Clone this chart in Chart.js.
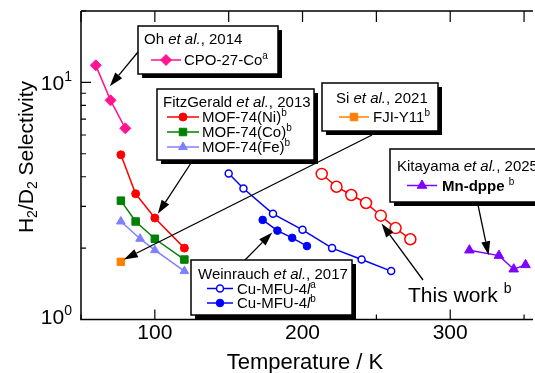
<!DOCTYPE html>
<html><head><meta charset="utf-8">
<script src="https://cdn.jsdelivr.net/npm/chart.js@4.4.1/dist/chart.umd.min.js"></script>
<style>html,body{margin:0;padding:0;background:#fff;overflow:hidden}#wrap{width:535px;height:373px;position:relative}</style>
</head><body><div id="wrap"><canvas id="c" width="535" height="373"></canvas></div>
<script>
const FONT = '"Liberation Sans", Arial, Helvetica, sans-serif';

// ---- data (temperature K, H2/D2 selectivity) ----
const cpoT = [60, 70, 80];
const cpoS = [11.8, 8.4, 6.4];
const niT = [77, 87, 100, 120];
const niS = [4.95, 3.39, 2.68, 2.0];
const coT = [77, 87, 100, 120];
const coS = [3.17, 2.59, 2.19, 1.79];
const feT = [77, 90, 100, 120];
const feS = [2.59, 2.19, 1.96, 1.60];
const fjiT = [77];
const fjiS = [1.75];
const cuAT = [150, 160, 180, 200, 220, 240, 260];
const cuAS = [4.13, 3.57, 2.79, 2.39, 2.0, 1.79, 1.60];
const cuBT = [173, 183, 193, 203];
const cuBS = [2.63, 2.37, 2.21, 2.04];
const thisT = [213, 223, 233, 243, 253, 263, 273];
const thisS = [4.11, 3.63, 3.35, 3.10, 2.74, 2.43, 2.18];
const mnT = [313, 333, 343, 351];
const mnS = [1.96, 1.86, 1.63, 1.70];

// ---- ticks ----
const xMajorTicks = [100, 200, 300];
const xMinorTicks = [50, 150, 250, 350];
const xTopTicks = [50, 100, 150, 200, 250, 300, 350];
const yMajorTicks = [1, 10];
const yMajorExp = ['0', '1'];
const yMinorTicks = [2, 3, 4, 5, 6, 7, 8, 9, 20];

function pts(T, S) { return T.map((t, i) => ({x: t, y: S[i]})); }
function ds(label, T, S, color, style, r, open) {
  return {
    label, data: pts(T, S), showLine: true,
    borderColor: color, borderWidth: 1.5,
    pointStyle: style, pointRadius: r, pointHoverRadius: r,
    pointBackgroundColor: open ? '#fff' : color,
    pointBorderColor: color, pointBorderWidth: open ? 1.5 : 1,
    clip: false
  };
}
const datasets = [
  ds('CPO-27-Co', cpoT, cpoS, '#FF1493', 'rectRot', 5.5),
  ds('MOF-74(Ni)', niT, niS, '#FF0000', 'circle', 4),
  ds('MOF-74(Co)', coT, coS, '#008000', 'rect', 5.3),
  ds('MOF-74(Fe)', feT, feS, '#8080FF', 'triangle', 5),
  ds('FJI-Y11', fjiT, fjiS, '#FF8000', 'rect', 5.3),
  ds('Cu-MFU-4l a', cuAT, cuAS, '#0000FF', 'circle', 3.5, true),
  ds('Cu-MFU-4l b', cuBT, cuBS, '#0000FF', 'circle', 3.8),
  ds('This work', thisT, thisS, '#FF0000', 'circle', 5.5, true),
  ds('Mn-dppe', mnT, mnS, '#8000FF', 'triangle', 5.5)
];

// ---- annotation layout ----
const boxes = [
  {x: 138, y: 26, w: 140, h: 48, tx: 144, ty: 39,
   title: [['Oh ', 'n'], ['et al.', 'i'], [', 2014', 'n']],
   items: [{ds: 0, y: 60, x0: 151, x1: 181, tx: 184, label: [['CPO-27-Co', 'n'], ['a', 'sup']]}]},
  {x: 157, y: 89, w: 157, h: 71, tx: 163, ty: 102,
   title: [['FitzGerald ', 'n'], ['et al.', 'i'], [', 2013', 'n']],
   items: [
     {ds: 1, y: 117, x0: 167, x1: 199, tx: 202, label: [['MOF-74(Ni)', 'n'], ['b', 'sup']]},
     {ds: 2, y: 132, x0: 167, x1: 199, tx: 202, label: [['MOF-74(Co)', 'n'], ['b', 'sup']]},
     {ds: 3, y: 147, x0: 167, x1: 199, tx: 202, label: [['MOF-74(Fe)', 'n'], ['b', 'sup']]}]},
  {x: 322, y: 83, w: 116, h: 48, tx: 336, ty: 98,
   title: [['Si ', 'n'], ['et al.', 'i'], [', 2021', 'n']],
   items: [{ds: 4, y: 117, x0: 339, x1: 369, tx: 373, label: [['FJI-Y11', 'n'], ['b', 'sup']]}]},
  {x: 390, y: 149, w: 170, h: 53, tx: 397, ty: 166,
   title: [['Kitayama ', 'n'], ['et al.', 'i'], [', 2025', 'n']],
   items: [{ds: 8, y: 185.5, x0: 407, x1: 437, tx: 442, label: [['Mn-dppe', 'b'], [' ', 'n'], ['b', 'sup']]}]},
  {x: 191, y: 260, w: 161, h: 55, tx: 198, ty: 274,
   title: [['Weinrauch ', 'n'], ['et al.', 'i'], [', 2017', 'n']],
   items: [
     {ds: 5, y: 288.5, x0: 207, x1: 233, tx: 237, label: [['Cu-MFU-4', 'n'], ['l', 'i'], ['a', 'sup']]},
     {ds: 6, y: 303, x0: 207, x1: 233, tx: 237, label: [['Cu-MFU-4', 'n'], ['l', 'i'], ['b', 'sup']]}]}
];
// arrow tails in pixels, tips in data coordinates
const arrows = [
  {from: [138, 52], to: [69.5, 9.64]},
  {from: [191, 163], to: [102, 2.79]},
  {from: [372, 135], to: [79, 1.79]},
  {from: [478, 205], to: [326, 1.865]},
  {from: [245, 260], to: [179.5, 2.33]},
  {from: [423, 280], to: [253.5, 2.54]}
];

function segFont(type, size) {
  const small = (type === 'sup' || type === 'sub');
  const s = small ? Math.round(size * 0.66) : size;
  return (type === 'i' ? 'italic ' : '') + (type === 'b' ? 'bold ' : '') + s + 'px ' + FONT;
}
function drawRich(ctx, segs, x, y, size, align) {
  ctx.save();
  ctx.textBaseline = 'alphabetic';
  ctx.fillStyle = '#000';
  const widths = segs.map(([t, type]) => { ctx.font = segFont(type, size); return ctx.measureText(t).width; });
  const total = widths.reduce((a, b) => a + b, 0);
  let cx = align === 'right' ? x - total : (align === 'center' ? x - total / 2 : x);
  const base = y + size * 0.36;
  segs.forEach(([t, type], i) => {
    ctx.font = segFont(type, size);
    const dy = type === 'sup' ? -size * 0.42 : (type === 'sub' ? size * 0.22 : 0);
    ctx.fillText(t, cx, base + dy);
    cx += widths[i];
  });
  ctx.restore();
  return total;
}
function marker(ctx, style, r, x, y) {
  ctx.beginPath();
  if (style === 'circle') ctx.arc(x, y, r, 0, Math.PI * 2);
  else if (style === 'rect') { const s = r * Math.SQRT1_2; ctx.rect(x - s, y - s, 2 * s, 2 * s); }
  else if (style === 'rectRot') { ctx.moveTo(x - r, y); ctx.lineTo(x, y - r); ctx.lineTo(x + r, y); ctx.lineTo(x, y + r); }
  else if (style === 'triangle') {
    let a = 0;
    for (let k = 0; k < 3; k++) { const px = x + Math.sin(a) * r, py = y - Math.cos(a) * r; k ? ctx.lineTo(px, py) : ctx.moveTo(px, py); a += 2 * Math.PI / 3; }
  }
  ctx.closePath();
}

const decor = {
  id: 'decor',
  afterDatasetsDraw(chart) {
    const {ctx, chartArea: a, scales: {x, y}} = chart;
    ctx.save();
    ctx.strokeStyle = '#000';
    ctx.lineWidth = 1.5;
    ctx.beginPath();
    ctx.moveTo(a.left, a.top); ctx.lineTo(a.left, a.bottom); ctx.lineTo(a.right + 5, a.bottom);
    ctx.moveTo(a.left, a.top); ctx.lineTo(a.right + 5, a.top);
    ctx.stroke();
    ctx.lineWidth = 1.2;
    ctx.beginPath();
    xMajorTicks.forEach(v => { const p = x.getPixelForValue(v); ctx.moveTo(p, a.bottom); ctx.lineTo(p, a.bottom - 10); });
    xMinorTicks.forEach(v => { const p = x.getPixelForValue(v); ctx.moveTo(p, a.bottom); ctx.lineTo(p, a.bottom - 5); });
    xTopTicks.forEach(v => { const p = x.getPixelForValue(v); ctx.moveTo(p, a.top); ctx.lineTo(p, a.top + 11); });
    yMajorTicks.forEach(v => { const p = y.getPixelForValue(v); ctx.moveTo(a.left, p); ctx.lineTo(a.left + 10, p); });
    yMinorTicks.forEach(v => { const p = y.getPixelForValue(v); ctx.moveTo(a.left, p); ctx.lineTo(a.left + 5, p); });
    ctx.stroke();

    // tick labels
    ctx.fillStyle = '#000';
    ctx.font = '21px ' + FONT;
    ctx.textAlign = 'center'; ctx.textBaseline = 'middle';
    xMajorTicks.forEach(v => ctx.fillText(String(v), x.getPixelForValue(v), 333));
    ctx.textAlign = 'left';
    yMajorTicks.forEach((v, i) => {
      const p = y.getPixelForValue(v);
      drawRich(ctx, [['10', 'n'], [yMajorExp[i], 'sup']], a.left - 9, p - (i === 0 ? 3 : 0), 21, 'right');
    });
    // axis titles
    drawRich(ctx, [['Temperature / K', 'n']], 305, 361, 22, 'center');
    ctx.save();
    ctx.translate(25, 157);
    ctx.rotate(-Math.PI / 2);
    drawRich(ctx, [['H', 'n'], ['2', 'sub'], ['/D', 'n'], ['2', 'sub'], [' Selectivity', 'n']], 0, 0, 21, 'center');
    ctx.restore();

    // arrows
    ctx.fillStyle = '#000'; ctx.strokeStyle = '#000'; ctx.lineWidth = 1.3;
    arrows.forEach(ar => {
      const [x0, y0] = ar.from;
      const x1 = x.getPixelForValue(ar.to[0]), y1 = y.getPixelForValue(ar.to[1]);
      const ang = Math.atan2(y1 - y0, x1 - x0);
      const L = 14, W = 4.5;
      const bx = x1 - Math.cos(ang) * L, by = y1 - Math.sin(ang) * L;
      ctx.beginPath(); ctx.moveTo(x0, y0); ctx.lineTo(bx, by); ctx.stroke();
      ctx.beginPath();
      ctx.moveTo(x1, y1);
      ctx.lineTo(bx + Math.sin(ang) * W, by - Math.cos(ang) * W);
      ctx.lineTo(bx - Math.sin(ang) * W, by + Math.cos(ang) * W);
      ctx.closePath(); ctx.fill();
    });

    // legend boxes
    boxes.forEach(b => {
      ctx.fillStyle = '#000';
      ctx.fillRect(b.x + 4, b.y + 4, b.w, b.h);
      ctx.fillStyle = '#fff';
      ctx.fillRect(b.x, b.y, b.w, b.h);
      ctx.strokeStyle = '#000'; ctx.lineWidth = 1.5;
      ctx.strokeRect(b.x, b.y, b.w, b.h);
      drawRich(ctx, b.title, b.tx, b.ty, 15, 'left');
      b.items.forEach(it => {
        const d = chart.data.datasets[it.ds];
        ctx.strokeStyle = d.borderColor; ctx.lineWidth = d.borderWidth;
        ctx.beginPath(); ctx.moveTo(it.x0, it.y); ctx.lineTo(it.x1, it.y); ctx.stroke();
        marker(ctx, d.pointStyle, d.pointRadius, (it.x0 + it.x1) / 2, it.y);
        ctx.fillStyle = d.pointBackgroundColor; ctx.fill();
        ctx.strokeStyle = d.pointBorderColor; ctx.lineWidth = d.pointBorderWidth; ctx.stroke();
        drawRich(ctx, it.label, it.tx, it.y, 15, 'left');
      });
    });

    drawRich(ctx, [['This work', 'n'], [' ', 'n'], ['b', 'sup']], 408, 294, 21, 'left');
    ctx.restore();
  }
};

new Chart(document.getElementById('c'), {
  type: 'scatter',
  data: {datasets},
  options: {
    responsive: false, animation: false, devicePixelRatio: 1,
    layout: {padding: {left: 81, top: 11, right: 0, bottom: 53.5}},
    plugins: {legend: {display: false}, tooltip: {enabled: false}},
    scales: {
      x: {type: 'linear', min: 50, max: 352.67, display: false},
      y: {type: 'logarithmic', min: 1, max: 20, display: false}
    }
  },
  plugins: [decor]
});
</script></body></html>
